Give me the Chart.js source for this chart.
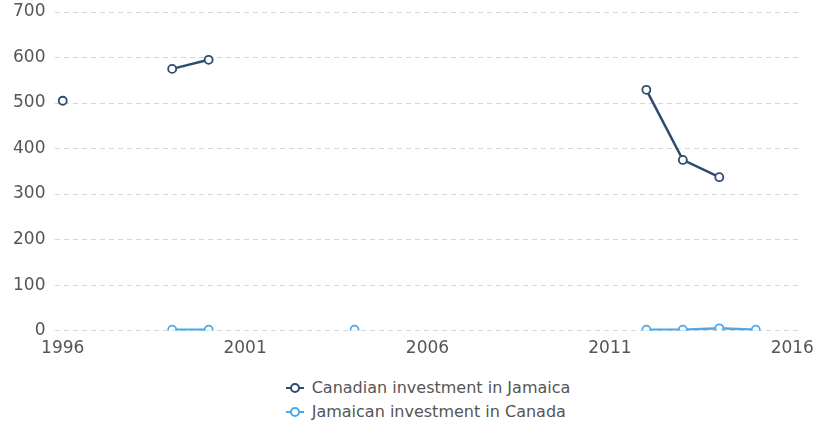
<!DOCTYPE html>
<html>
<head>
<meta charset="utf-8">
<script src="https://cdn.jsdelivr.net/npm/chart.js@4.4.0/dist/chart.umd.min.js"></script>
<style>
  body { margin: 0; background: #fff; font-family: "DejaVu Sans", sans-serif; }
  #wrap { width: 814px; height: 359px; position: relative; }
  #legend { width: 814px; box-sizing: border-box; padding-left: 42px; display: flex; justify-content: center; margin-top: 17px; }
  #legend ul { list-style: none; margin: 0; padding: 0; }
  #legend li { font-size: 16px; color: #555; height: 24px; line-height: 24px; display: flex; align-items: center; }
  #legend .icon { position: relative; width: 18px; height: 10px; margin-right: 8px; }
  #legend .icon .ln { position: absolute; left: 0; right: 0; top: 4px; height: 2px; }
  #legend .icon .pt { position: absolute; left: 4px; top: 0; width: 6px; height: 6px; border-radius: 50%; background: #fff; border: 2px solid; }
</style>
</head>
<body>
<div id="wrap"><canvas id="myChart"></canvas></div>
<div id="legend"><ul id="legendList"></ul></div>
<script>
var years = [1996, 1997, 1998, 1999, 2000, 2001, 2002, 2003, 2004, 2005,
             2006, 2007, 2008, 2009, 2010, 2011, 2012, 2013, 2014, 2015];
var canadianInJamaica = [505, null, null, 575, 595, null, null, null, null, null,
                         null, null, null, null, null, null, 529, 375, 337, null];
var jamaicanInCanada = [null, null, null, 2, 2, null, null, null, 2, null,
                        null, null, null, null, null, null, 2, 2, 5, 2];
var yearTicks = [1996, 2001, 2006, 2011, 2016];
var seriesNames = ['Canadian investment in Jamaica', 'Jamaican investment in Canada'];
var seriesColors = ['#2f4b6e', '#4aa9e9'];

function toPoints(values) {
    return years.map(function (y, i) {
        return { x: y, y: values[i] };
    });
}

var ctx = document.getElementById('myChart').getContext('2d');
var chart = new Chart(ctx, {
    type: 'line',
    data: {
        datasets: [
            {
                label: seriesNames[0],
                data: toPoints(canadianInJamaica),
                borderColor: seriesColors[0],
                backgroundColor: '#fff',
                pointBorderColor: seriesColors[0],
                spanGaps: false
            },
            {
                label: seriesNames[1],
                data: toPoints(jamaicanInCanada),
                borderColor: seriesColors[1],
                backgroundColor: '#fff',
                pointBorderColor: seriesColors[1],
                spanGaps: false
            }
        ]
    },
    options: {
        responsive: true,
        maintainAspectRatio: false,
        animation: false,
        layout: {
            padding: { left: 3, right: 11, top: 0, bottom: 0 }
        },
        elements: {
            line: { tension: 0, borderWidth: 2.5 },
            point: {
                radius: 4,
                hoverRadius: 4,
                borderWidth: 1.8,
                pointStyle: 'circle',
                backgroundColor: '#fff'
            }
        },
        plugins: {
            legend: { display: false },
            tooltip: { enabled: false }
        },
        scales: {
            x: {
                type: 'linear',
                min: 1995.8,
                max: 2016.2,
                afterBuildTicks: function (axis) {
                    axis.ticks = yearTicks.map(function (v) { return { value: v }; });
                },
                grid: { display: false },
                border: { display: false },
                ticks: {
                    color: '#555',
                    font: { family: 'DejaVu Sans', size: 17 },
                    padding: 0,
                    maxRotation: 0,
                    callback: function (v) { return String(v); }
                }
            },
            y: {
                min: 0,
                max: 700,
                afterFit: function (scale) {
                    scale.paddingTop = 12;
                },
                grid: {
                    color: '#d6d6d6',
                    drawTicks: false
                },
                border: { display: false, dash: [5, 4] },
                ticks: {
                    stepSize: 100,
                    color: '#555',
                    padding: 10,
                    font: { family: 'DejaVu Sans', size: 17 }
                }
            }
        }
    }
});

var list = document.getElementById('legendList');
seriesNames.forEach(function (name, i) {
    var li = document.createElement('li');
    li.innerHTML = '<span class="icon"><span class="ln" style="background:' + seriesColors[i] +
        '"></span><span class="pt" style="border-color:' + seriesColors[i] + '"></span></span>' + name;
    list.appendChild(li);
});
</script>
</body>
</html>
